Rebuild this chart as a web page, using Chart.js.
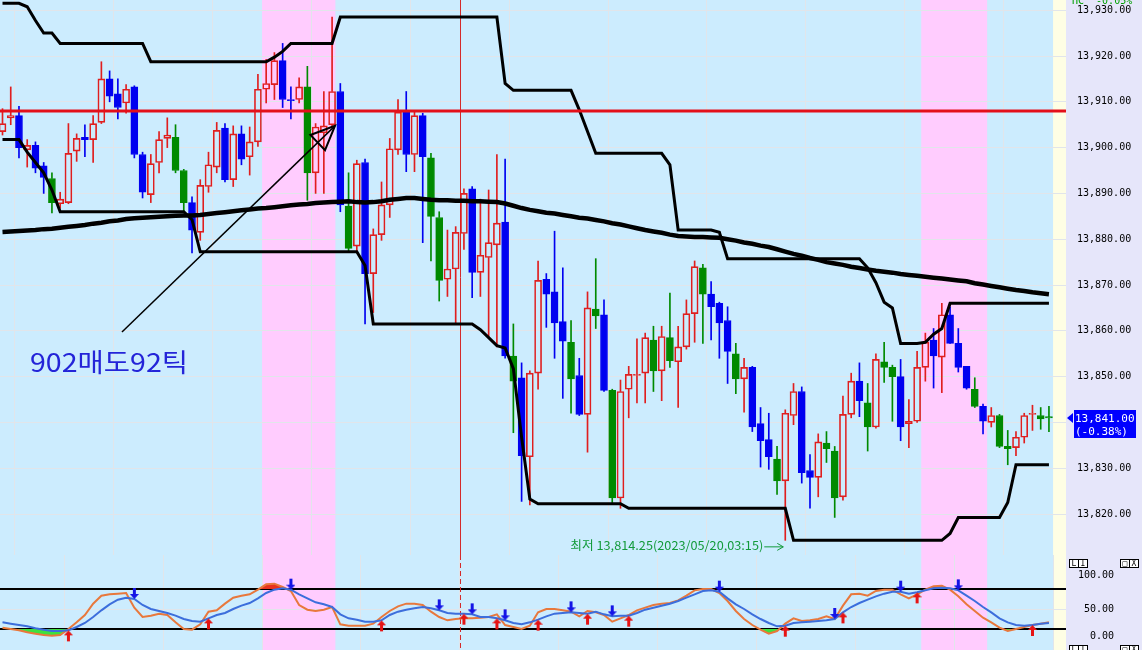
<!DOCTYPE html>
<html lang="ko">
<head>
<meta charset="utf-8">
<title>Futures 5min chart</title>
<script src="https://cdn.jsdelivr.net/npm/chart.js@4.4.1/dist/chart.umd.min.js"></script>
<style>
  html, body { margin: 0; padding: 0; background: #e6e6fa; overflow: hidden; }
  canvas { display: block; }
</style>
</head>
<body>
<canvas id="priceChart" width="1142" height="555"></canvas>
<canvas id="stochChart" width="1142" height="95"></canvas>
<script>
// ---------- data ----------
// u = up candle (hollow red), d = down (blue), g = down (green)
var candleKinds = ('uududdguuu' + 'duuddudduu' + 'uggduuudud' + 'uuuudduguu' + 'udguduuuud' +
  'udgguuuduu' + 'udgduudddg' + 'dugdguuuug' + 'uguuugdddg' + 'udddguuddu' +
  'gguudguggd' + 'uuududddgd' + 'ugguuugg').split('')

var opens = [
  13903.5, 13906.5, 13907, 13899.5, 13900.5, 13896, 13893.25, 13887.75, 13888, 13899.25,
  13902.25, 13901.75, 13905.5, 13915, 13911.75, 13909.75, 13913.25, 13898.5, 13889.75, 13896.75,
  13902, 13902.25, 13895, 13888, 13881.5, 13891.5, 13895.75, 13904.25, 13893, 13903,
  13898, 13901.25, 13912.75, 13913.75, 13919, 13910.5, 13910.5, 13913.25, 13894.5, 13903.25,
  13905, 13912.25, 13887.25, 13878.5, 13896.75, 13872.5, 13881, 13887.5, 13899.5, 13907.75,
  13898.5, 13907, 13897.75, 13884.75, 13871.25, 13873.5, 13881.25, 13891, 13872.75, 13876,
  13878.75, 13883.75, 13854.5, 13849.75, 13832.5, 13850.75, 13871.25, 13868.5, 13862, 13857.5,
  13850.25, 13841.75, 13864.75, 13863.5, 13847, 13823.5, 13847.25, 13850.25, 13850.75, 13858,
  13851.25, 13858.5, 13853.25, 13856.5, 13863.75, 13873.75, 13868, 13866, 13862.25, 13855,
  13849.5, 13852, 13839.75, 13836.25, 13832, 13827.25, 13841.5, 13846.75, 13829.5, 13828,
  13835.5, 13833.75, 13823.75, 13841.75, 13849, 13844.25, 13839, 13853.25, 13852, 13850,
  13839.75, 13840.25, 13852, 13858, 13854.25, 13863.5, 13857.25, 13852.25, 13847.25, 13843.5,
  13840, 13841.5, 13834.75, 13834.5, 13836.75, 13841.75, 13841.5, 13841.25
]
var highs = [
  13908.5, 13913.25, 13909, 13901.75, 13901.25, 13896.75, 13894.5, 13890.25, 13905.25, 13903,
  13905, 13907, 13918.75, 13916.75, 13915, 13913.75, 13913.5, 13899, 13898.5, 13903.5,
  13906.5, 13905, 13895.25, 13889.25, 13893, 13899, 13905.5, 13905.25, 13904.75, 13904.75,
  13904.5, 13916, 13919.25, 13920.75, 13922.75, 13913.25, 13915.25, 13917.75, 13905.25, 13912.25,
  13928.5, 13914, 13894.5, 13897.25, 13897.5, 13882.25, 13892.5, 13902, 13910.5, 13912.25,
  13907.75, 13907.5, 13898.75, 13886, 13882, 13882.75, 13891, 13891.5, 13888.75, 13890.75,
  13898.5, 13897.5, 13861.5, 13853, 13851.25, 13875.25, 13872.5, 13881.75, 13873.75, 13862.25,
  13854, 13868.5, 13875.75, 13866.75, 13847.25, 13849.25, 13852.25, 13858.25, 13859.5, 13861,
  13861, 13868.25, 13861, 13866.75, 13875.25, 13874.5, 13870.75, 13866.25, 13865.25, 13857.25,
  13854, 13852.25, 13843.25, 13842, 13834.75, 13842.75, 13848.5, 13847.75, 13833, 13837.5,
  13838, 13834.75, 13845.75, 13850.75, 13853, 13848.5, 13855, 13857.5, 13852.5, 13853.75,
  13845, 13855.5, 13859.5, 13860.5, 13866, 13865.25, 13860.5, 13852.25, 13849.75, 13844,
  13843.25, 13841.75, 13838.25, 13838, 13842, 13843.75, 13843.25, 13843.5
]
var lows = [
  13902.75, 13905, 13897.75, 13895.75, 13894.5, 13890, 13885.75, 13886.75, 13887.75, 13897,
  13898, 13896.75, 13905.25, 13910, 13906.25, 13907.5, 13897.75, 13889, 13888, 13894.5,
  13900, 13894.5, 13886, 13877, 13879.75, 13890.25, 13894.5, 13892.5, 13891.5, 13896.25,
  13894, 13900.25, 13909.75, 13910.5, 13908.75, 13906.25, 13909.75, 13888.5, 13890, 13890,
  13904.5, 13886, 13877.5, 13877.5, 13861.5, 13864, 13879.75, 13884.75, 13898.5, 13894.75,
  13894.75, 13879.25, 13875.25, 13866.5, 13867.5, 13861.75, 13877.75, 13867.25, 13867.5, 13858.75,
  13856.5, 13854, 13837.75, 13822.75, 13822, 13847.25, 13860.75, 13854, 13845.25, 13842,
  13841.5, 13833.5, 13860.5, 13846.75, 13822.5, 13821.25, 13841, 13844.25, 13844.25, 13846.75,
  13844.75, 13852, 13843.25, 13856, 13857.5, 13857.25, 13858, 13854, 13848.5, 13846.25,
  13842.25, 13838, 13830.25, 13829.75, 13824.25, 13814.25, 13839.5, 13826.75, 13821.25, 13823.75,
  13831.25, 13819.25, 13823, 13841, 13841.25, 13833.75, 13838.75, 13848.75, 13840.25, 13836,
  13834.5, 13840, 13849, 13847.5, 13846.5, 13857.25, 13851, 13847.25, 13843.25, 13837.5,
  13839, 13834.5, 13830.75, 13832.75, 13835.5, 13838.25, 13838.5, 13838
]
var closes = [
  13905.25, 13907, 13900, 13900.5, 13895.5, 13893.5, 13888, 13888.75, 13898.75, 13902,
  13901.75, 13905.25, 13915, 13911.25, 13908.75, 13912.75, 13898.5, 13890.25, 13896.5, 13901.75,
  13902.75, 13895, 13888, 13882, 13891.75, 13896.25, 13903.75, 13893, 13903, 13897.5,
  13901.25, 13912.75, 13914, 13919, 13910.5, 13910.25, 13913.25, 13894.5, 13904.5, 13904.75,
  13912.25, 13887.5, 13878, 13896.5, 13872.5, 13881, 13887.5, 13899.75, 13907.75, 13898.5,
  13907, 13898, 13885, 13871, 13873.5, 13881.5, 13890, 13872.75, 13876.5, 13879.25,
  13883.5, 13854.5, 13849, 13832.75, 13850.75, 13871, 13868, 13861.75, 13857.75, 13849.5,
  13841.75, 13865, 13863.25, 13847, 13823.5, 13846.75, 13850.5, 13850.5, 13858.5, 13851.25,
  13858.75, 13853.5, 13856.5, 13863.75, 13874, 13868, 13865.25, 13861.75, 13855.5, 13849.5,
  13852, 13839, 13836, 13832.5, 13827.25, 13842, 13846.75, 13829, 13828, 13835.75,
  13834.25, 13823.5, 13841.75, 13849, 13844.75, 13839, 13853.75, 13852, 13850, 13839,
  13840.25, 13852, 13857.5, 13854.5, 13863.5, 13857.25, 13852, 13847.5, 13843.5, 13840.25,
  13841.5, 13834.75, 13834.25, 13836.75, 13841.5, 13842, 13840.75, 13841
]

// channel high / low lines
var upperBand = [
  13931.5, 13931.5, 13931.5, 13930.75, 13927.75, 13925, 13925, 13922.75, 13922.75, 13922.75,
  13922.75, 13922.75, 13922.75, 13922.75, 13922.75, 13922.75, 13922.75, 13922.75, 13918.75, 13918.75,
  13918.75, 13918.75, 13918.75, 13918.75, 13918.75, 13918.75, 13918.75, 13918.75, 13918.75, 13918.75,
  13918.75, 13918.75, 13918.75, 13919.75, 13921, 13922.75, 13922.75, 13922.75, 13922.75, 13922.75,
  13922.75, 13928.5, 13928.5, 13928.5, 13928.5, 13928.5, 13928.5, 13928.5, 13928.5, 13928.5,
  13928.5, 13928.5, 13928.5, 13928.5, 13928.5, 13928.5, 13928.5, 13928.5, 13928.5, 13928.5,
  13928.5, 13914, 13912.5, 13912.5, 13912.5, 13912.5, 13912.5, 13912.5, 13912.5, 13912.5,
  13908.25, 13903.5, 13898.75, 13898.75, 13898.75, 13898.75, 13898.75, 13898.75, 13898.75, 13898.75,
  13898.75, 13896.25, 13882, 13882, 13882, 13882, 13882, 13881.5, 13875.75, 13875.75,
  13875.75, 13875.75, 13875.75, 13875.75, 13875.75, 13875.75, 13875.75, 13875.75, 13875.75, 13875.75,
  13875.75, 13875.75, 13875.75, 13875.75, 13875.75, 13873.75, 13870.5, 13866.25, 13865, 13857.25,
  13857.25, 13857.25, 13857.5, 13859.25, 13860.5, 13866, 13866, 13866, 13866, 13866,
  13866, 13866, 13866, 13866, 13866, 13866, 13866, 13866
]
var lowerBand = [
  13901.75, 13901.75, 13901.75, 13899, 13896.75, 13894.5, 13890.75, 13886, 13886, 13886,
  13886, 13886, 13886, 13886, 13886, 13886, 13886, 13886, 13886, 13886,
  13886, 13886, 13886, 13884.25, 13877.25, 13877.25, 13877.25, 13877.25, 13877.25, 13877.25,
  13877.25, 13877.25, 13877.25, 13877.25, 13877.25, 13877.25, 13877.25, 13877.25, 13877.25, 13877.25,
  13877.25, 13877.25, 13877.25, 13877.25, 13874.25, 13861.5, 13861.5, 13861.5, 13861.5, 13861.5,
  13861.5, 13861.5, 13861.5, 13861.5, 13861.5, 13861.5, 13861.5, 13861.5, 13860.25, 13858.5,
  13856.75, 13856.25, 13851.75, 13836.75, 13823.25, 13822.25, 13822.25, 13822.25, 13822.25, 13822.25,
  13822.25, 13822.25, 13822.25, 13822.25, 13822.25, 13822.25, 13821.25, 13821.25, 13821.25, 13821.25,
  13821.25, 13821.25, 13821.25, 13821.25, 13821.25, 13821.25, 13821.25, 13821.25, 13821.25, 13821.25,
  13821.25, 13821.25, 13821.25, 13821.25, 13821.25, 13821.25, 13814.25, 13814.25, 13814.25, 13814.25,
  13814.25, 13814.25, 13814.25, 13814.25, 13814.25, 13814.25, 13814.25, 13814.25, 13814.25, 13814.25,
  13814.25, 13814.25, 13814.25, 13814.25, 13814.25, 13815.75, 13819.25, 13819.25, 13819.25, 13819.25,
  13819.25, 13819.25, 13822.5, 13830.75, 13830.75, 13830.75, 13830.75, 13830.75
]
// long moving average (thick line)
var maLine = [
  13881.6, 13881.7, 13881.8, 13881.9, 13882.0, 13882.2, 13882.3, 13882.5, 13882.7, 13882.9,
  13883.1, 13883.4, 13883.6, 13883.9, 13884.1, 13884.4, 13884.6, 13884.7, 13884.8, 13884.9,
  13885.0, 13885.1, 13885.2, 13885.2, 13885.3, 13885.5, 13885.7, 13885.9, 13886.1, 13886.3,
  13886.5, 13886.7, 13886.8, 13887.0, 13887.2, 13887.4, 13887.6, 13887.7, 13887.9, 13888.0,
  13888.1, 13888.2, 13888.3, 13888.1, 13888.0, 13888.1, 13888.3, 13888.6, 13888.8, 13889.0,
  13889.0, 13888.8, 13888.6, 13888.5, 13888.5, 13888.4, 13888.4, 13888.3, 13888.3, 13888.2,
  13888.1, 13887.8, 13887.3, 13886.8, 13886.4, 13886.1, 13885.8, 13885.6, 13885.3, 13885.0,
  13884.7, 13884.5, 13884.2, 13883.9, 13883.5, 13883.2, 13882.8, 13882.4, 13882.0, 13881.7,
  13881.4, 13881.0, 13880.7, 13880.6, 13880.5, 13880.5, 13880.4, 13880.3, 13880.0, 13879.7,
  13879.3, 13879.0, 13878.6, 13878.3, 13877.8, 13877.3, 13876.8, 13876.4, 13875.9, 13875.5,
  13875.0, 13874.7, 13874.4, 13874.0, 13873.7, 13873.4, 13873.1, 13872.9, 13872.7, 13872.4,
  13872.2, 13872.0, 13871.8, 13871.6, 13871.4, 13871.2, 13871.0, 13870.8, 13870.4, 13870.1,
  13869.8, 13869.5, 13869.2, 13868.9, 13868.7, 13868.4, 13868.2, 13868.0
]

// stochastic pane
var stochK = [
  22, 20, 18, 15, 13, 11, 10, 11, 20, 30,
  41, 58, 70, 72, 73, 74, 52, 38, 40, 43,
  41, 30, 20, 19, 27, 46, 48, 58, 67, 70,
  72, 79, 87, 88, 83, 77, 56, 49, 47, 49,
  53, 27, 25, 25, 25, 28, 38, 47, 54, 58,
  58, 56, 46, 38, 33, 35, 36, 36, 37, 38,
  42, 26, 23, 20, 25, 45, 50, 50, 48, 46,
  39, 47, 45, 41, 31, 36, 41, 48, 52, 56,
  58, 59, 63, 70, 78, 80, 80, 74, 62, 47,
  35, 26, 19, 13, 17, 28, 36, 32, 33, 35,
  39, 35, 55, 72, 73, 70, 77, 79, 79, 72,
  66, 72, 79, 84, 85, 79, 69, 57, 47, 37,
  30, 22, 17, 20, 23, 26, 28, 30
]
var stochD = [
  30, 28, 26, 24, 21, 19, 17, 17, 18, 23,
  29, 38, 48, 57, 64, 67, 65, 56, 50, 47,
  44, 40, 35, 32, 31, 36, 41, 44, 50, 55,
  59, 66, 74, 79, 81, 79, 72, 66, 60, 57,
  53, 42, 36, 34, 31, 31, 33, 41, 46, 49,
  51, 53, 51, 48, 44, 43, 43, 42, 38, 38,
  36, 33, 29, 27, 30, 34, 39, 43, 44, 45,
  44, 43, 46, 42, 39, 40, 40, 44, 49, 52,
  55, 58, 62, 67, 72, 77, 78, 76, 66, 57,
  50, 42, 35, 29, 24, 25, 29, 30, 31, 32,
  33, 35, 45, 53, 59, 64, 69, 73, 76, 76,
  73, 75, 78, 81, 82, 81, 78, 70, 62, 53,
  45, 36, 30, 26, 25, 26, 28, 29
]
var sellSignals = [16, 35, 53, 57, 61, 69, 74, 87, 101, 109, 116]
var buySignals = [8, 25, 46, 56, 60, 65, 71, 76, 95, 102, 111, 125]
var stochLevels = [20, 80]
var stochTicks = [0, 50, 100]

var priceTicks = [13820, 13830, 13840, 13850, 13860, 13870, 13880, 13890, 13900, 13910, 13920, 13930]
var hourLines = [7.5, 19.5, 31.5, 43.5, 55.5, 67.5, 79.5, 91.5, 103.5, 115.5, 127.5]
var shadedRanges = [[31.5, 40.4], [111.5, 119.5]]
var markerAt = 55.5
var resistance = 13908
var noteText = '902매도92틱'
var lowTime = '2023/05/20,03:15'
var changeText = '(-0.38%)'
var headerText = 'HC  -0.05%'

// ---------- helpers ----------
var gridColor = '#e1e5ea'
function fmt (v) {
  return Number(v).toLocaleString('en-US', { minimumFractionDigits: 2, maximumFractionDigits: 2 })
}
function kindColor (k) {
  if (k === 'u') return '#e01e1e'
  if (k === 'g') return '#008a00'
  return '#0000f0'
}
var idx = closes.map(function (c, i) { return i })

// draw text stretched to a given width, left edge at x
function fitText (ctx, text, x, y, width) {
  var w = ctx.measureText(text).width
  ctx.save()
  ctx.translate(x, y)
  ctx.scale(width / w, 1)
  ctx.textAlign = 'left'
  ctx.fillText(text, 0, 0)
  ctx.restore()
}

function timeAxis () {
  return {
    type: 'linear',
    min: -0.3034,
    max: 129.07,
    offset: false,
    afterBuildTicks: function (s) { s.ticks = hourLines.map(function (v) { return { value: v } }) },
    afterFit: function (s) { s.height = 0; s.paddingLeft = 0; s.paddingRight = 0 },
    ticks: { display: false },
    grid: { color: gridColor, drawTicks: false },
    border: { display: false }
  }
}

// background: axis area, plot colour, future strip, pink sessions
var panelBackground = {
  id: 'panelBackground',
  beforeDraw: function (chart) {
    var ctx = chart.ctx, a = chart.chartArea, x = chart.scales.x
    ctx.save()
    ctx.fillStyle = '#e6e6fa'
    ctx.fillRect(0, 0, chart.width, chart.height)
    ctx.fillStyle = '#ccecfe'
    ctx.fillRect(a.left, a.top, a.width, a.height)
    var edge = x.getPixelForValue(closes.length - 0.5)
    ctx.fillStyle = '#fefee4'
    ctx.fillRect(edge, a.top, a.right - edge, a.height)
    ctx.fillStyle = '#ffccfe'
    shadedRanges.forEach(function (r) {
      var x0 = x.getPixelForValue(r[0]), x1 = x.getPixelForValue(r[1])
      ctx.fillRect(x0, a.top, x1 - x0, a.height)
    })
    ctx.restore()
  }
}

function drawArrowHead (ctx, fx, fy, tx, ty, len, half) {
  var dx = tx - fx, dy = ty - fy, l = Math.sqrt(dx * dx + dy * dy)
  dx /= l; dy /= l
  var bx = tx - dx * len, by = ty - dy * len
  ctx.beginPath()
  ctx.moveTo(tx, ty)
  ctx.lineTo(bx - dy * half, by + dx * half)
  ctx.lineTo(bx + dy * half, by - dx * half)
  ctx.closePath()
}

var priceOverlay = {
  id: 'priceOverlay',
  beforeDatasetsDraw: function (chart) {
    var ctx = chart.ctx, a = chart.chartArea, x = chart.scales.x
    var mx = Math.round(x.getPixelForValue(markerAt)) + 0.5
    ctx.save()
    ctx.strokeStyle = '#d42a2a'
    ctx.lineWidth = 1
    ctx.beginPath(); ctx.moveTo(mx, a.top); ctx.lineTo(mx, a.bottom); ctx.stroke()
    ctx.restore()
  },
  afterDatasetsDraw: function (chart) {
    var ctx = chart.ctx, a = chart.chartArea, x = chart.scales.x, y = chart.scales.y
    ctx.save()
    // horizontal level
    var ry = y.getPixelForValue(resistance)
    ctx.strokeStyle = '#e3101a'
    ctx.lineWidth = 3
    ctx.beginPath(); ctx.moveTo(a.left, ry); ctx.lineTo(a.right, ry); ctx.stroke()

    // annotation arrow
    var fx = x.getPixelForValue(14.5), fy = y.getPixelForValue(13859.75)
    var tx = x.getPixelForValue(40.35), ty = y.getPixelForValue(13904.75)
    ctx.strokeStyle = '#000'
    ctx.lineWidth = 1.5
    ctx.beginPath(); ctx.moveTo(fx, fy); ctx.lineTo(tx, ty); ctx.stroke()
    ctx.lineWidth = 2
    drawArrowHead(ctx, fx, fy, tx, ty, 24, 10.5)
    ctx.stroke()

    // annotation text
    ctx.fillStyle = '#2424d8'
    ctx.font = '26px "Noto Sans CJK KR"'
    ctx.textBaseline = 'alphabetic'
    fitText(ctx, noteText, x.getPixelForValue(3.34), y.getPixelForValue(13851), 158)

    // lowest price note
    var low = Math.min.apply(null, lows), li = lows.indexOf(low)
    var ax1 = x.getPixelForValue(li) - 2, ay = y.getPixelForValue(low) + 6, ax0 = ax1 - 19
    ctx.strokeStyle = '#129a3a'
    ctx.fillStyle = '#129a3a'
    ctx.lineWidth = 1
    ctx.beginPath(); ctx.moveTo(ax0, ay + 0.5); ctx.lineTo(ax1, ay + 0.5); ctx.stroke()
    ctx.beginPath(); ctx.moveTo(ax1 - 6, ay - 3); ctx.lineTo(ax1, ay + 0.5); ctx.lineTo(ax1 - 6, ay + 4); ctx.stroke()
    ctx.font = '12px "Noto Sans CJK KR"'
    fitText(ctx, '최저 ' + fmt(low) + '(' + lowTime + ')', ax0 - 194, ay + 4, 193)
    ctx.restore()
  },
  afterDraw: function (chart) {
    var ctx = chart.ctx, a = chart.chartArea, y = chart.scales.y
    var last = closes[closes.length - 1]
    var py = Math.round(y.getPixelForValue(last))
    ctx.save()
    ctx.fillStyle = '#0000ff'
    ctx.beginPath()
    ctx.moveTo(a.right + 1, py); ctx.lineTo(a.right + 7, py - 5); ctx.lineTo(a.right + 7, py + 5)
    ctx.closePath(); ctx.fill()
    ctx.fillRect(a.right + 8, py - 8, 62, 28)
    ctx.fillStyle = '#fff'
    ctx.font = '11px "DejaVu Sans Mono"'
    ctx.textAlign = 'left'
    ctx.fillText(fmt(last), a.right + 9, py + 4)
    ctx.fillText(changeText, a.right + 9, py + 17)
    // header, clipped by the top edge
    ctx.fillStyle = '#00a000'
    ctx.font = '10px "DejaVu Sans Mono"'
    ctx.fillText(headerText, a.right + 6, 4)
    ctx.restore()
  }
}

// ---------- price pane ----------
var priceChart = new Chart(document.getElementById('priceChart').getContext('2d'), {
  type: 'line',
  data: {
    datasets: [
      {
        type: 'bar',
        label: 'upper wick',
        data: idx.map(function (i) { return { x: i, y: [Math.max(opens[i], closes[i]), highs[i]] } }),
        backgroundColor: function (c) { return kindColor(candleKinds[c.dataIndex]) },
        barThickness: 1,
        grouped: false,
        order: 3
      },
      {
        type: 'bar',
        label: 'lower wick',
        data: idx.map(function (i) { return { x: i, y: [lows[i], Math.min(opens[i], closes[i])] } }),
        backgroundColor: function (c) { return kindColor(candleKinds[c.dataIndex]) },
        barThickness: 1,
        grouped: false,
        order: 3
      },
      {
        type: 'bar',
        label: 'body',
        data: idx.map(function (i) { return { x: i, y: [opens[i], closes[i]] } }),
        backgroundColor: function (c) {
          var k = candleKinds[c.dataIndex]
          return k === 'u' ? 'rgba(0,0,0,0)' : kindColor(k)
        },
        borderColor: function (c) { return kindColor(candleKinds[c.dataIndex]) },
        borderWidth: 1,
        borderSkipped: false,
        barThickness: 7,
        minBarLength: 1,
        grouped: false,
        order: 2
      },
      {
        label: 'MA',
        data: idx.map(function (i) { return { x: i, y: maLine[i] } }),
        borderColor: '#000',
        borderWidth: 4.5,
        pointRadius: 0,
        order: 1
      },
      {
        label: 'channel high',
        data: idx.map(function (i) { return { x: i, y: upperBand[i] } }),
        borderColor: '#000',
        borderWidth: 3,
        pointRadius: 0,
        order: 1
      },
      {
        label: 'channel low',
        data: idx.map(function (i) { return { x: i, y: lowerBand[i] } }),
        borderColor: '#000',
        borderWidth: 3,
        pointRadius: 0,
        order: 1
      }
    ]
  },
  options: {
    responsive: false,
    animation: false,
    devicePixelRatio: 1,
    layout: { padding: 0, autoPadding: false },
    plugins: { legend: { display: false }, tooltip: { enabled: false } },
    scales: {
      x: timeAxis(),
      y: {
        type: 'linear',
        position: 'right',
        min: 13811.05,
        max: 13932.23,
        afterBuildTicks: function (s) { s.ticks = priceTicks.map(function (v) { return { value: v } }) },
        afterFit: function (s) { s.width = 76; s.paddingTop = 0; s.paddingBottom = 0 },
        ticks: {
          callback: function (v) { return fmt(v) },
          font: { family: 'DejaVu Sans Mono', size: 10 },
          color: '#000',
          padding: 11
        },
        grid: { color: gridColor, drawTicks: false },
        border: { display: false }
      }
    }
  },
  plugins: [panelBackground, priceOverlay]
})

// ---------- stochastic pane ----------
function arrowIcon (color, down) {
  var c = document.createElement('canvas')
  c.width = 9; c.height = 26
  var g = c.getContext('2d')
  g.fillStyle = color
  if (down) {
    g.fillRect(3, 2, 3, 7)
    g.beginPath(); g.moveTo(0, 8); g.lineTo(9, 8); g.lineTo(4.5, 13); g.closePath(); g.fill()
  } else {
    g.beginPath(); g.moveTo(4.5, 13); g.lineTo(9, 18); g.lineTo(0, 18); g.closePath(); g.fill()
    g.fillRect(3, 17, 3, 7)
  }
  return c
}

var stochOverlay = {
  id: 'stochOverlay',
  beforeDatasetsDraw: function (chart) {
    var ctx = chart.ctx, a = chart.chartArea, x = chart.scales.x, y = chart.scales.y
    ctx.save()
    ctx.strokeStyle = '#000'
    ctx.lineWidth = 2
    stochLevels.forEach(function (v) {
      var ly = Math.round(y.getPixelForValue(v))
      ctx.beginPath(); ctx.moveTo(a.left, ly); ctx.lineTo(a.right, ly); ctx.stroke()
    })
    var mx = Math.round(x.getPixelForValue(markerAt)) + 0.5
    ctx.strokeStyle = '#d42a2a'
    ctx.lineWidth = 1
    ctx.setLineDash([5, 3])
    ctx.beginPath(); ctx.moveTo(mx, a.top); ctx.lineTo(mx, a.bottom); ctx.stroke()
    ctx.restore()
  },
  afterDraw: function (chart) {
    var ctx = chart.ctx, y = chart.scales.y
    ctx.save()
    ctx.fillStyle = '#000'
    ctx.font = '10px "DejaVu Sans Mono"'
    ctx.textAlign = 'right'
    ctx.textBaseline = 'middle'
    stochTicks.forEach(function (v) {
      var ty = Math.min(y.getPixelForValue(v), chart.height - 14)
      ctx.fillText(fmt(v), 1114, ty)
    })
    // pane buttons
    ctx.font = '8px "DejaVu Sans Mono"'
    ctx.textAlign = 'center'
    ctx.lineWidth = 1
    ;[4, 90].forEach(function (top) {
      [[1069, 'L', 'I'], [1120, '□', 'X']].forEach(function (b) {
        ctx.fillStyle = '#fff'
        ctx.fillRect(b[0], top, 18, 9)
        ctx.strokeStyle = '#000'
        ctx.strokeRect(b[0] + 0.5, top + 0.5, 9, 8)
        ctx.strokeRect(b[0] + 9.5, top + 0.5, 9, 8)
        ctx.fillStyle = '#000'
        ctx.fillText(b[1], b[0] + 5, top + 5)
        ctx.fillText(b[2], b[0] + 14, top + 5)
      })
    })
    ctx.restore()
  }
}

var stochChart = new Chart(document.getElementById('stochChart').getContext('2d'), {
  type: 'line',
  data: {
    datasets: [
      {
        label: 'K over',
        data: idx.map(function (i) { return { x: i, y: stochK[i] } }),
        borderWidth: 0,
        pointRadius: 0,
        fill: { target: { value: stochLevels[1] }, above: '#e8321e', below: 'rgba(0,0,0,0)' },
        order: 5
      },
      {
        label: 'K under',
        data: idx.map(function (i) { return { x: i, y: stochK[i] } }),
        borderWidth: 0,
        pointRadius: 0,
        fill: { target: { value: stochLevels[0] }, above: 'rgba(0,0,0,0)', below: '#3ee03e' },
        order: 5
      },
      {
        label: '%K',
        data: idx.map(function (i) { return { x: i, y: stochK[i] } }),
        borderColor: '#e8783c',
        borderWidth: 2,
        pointRadius: 0,
        order: 4
      },
      {
        label: '%D',
        data: idx.map(function (i) { return { x: i, y: stochD[i] } }),
        borderColor: '#3c6edc',
        borderWidth: 2,
        pointRadius: 0,
        order: 3
      },
      {
        label: 'sell',
        data: sellSignals.map(function (i) { return { x: i, y: stochD[i] } }),
        showLine: false,
        pointStyle: arrowIcon('#1414e6', true),
        pointRadius: 5,
        order: 1
      },
      {
        label: 'buy',
        data: buySignals.map(function (i) { return { x: i, y: stochD[i] } }),
        showLine: false,
        pointStyle: arrowIcon('#e61414', false),
        pointRadius: 5,
        order: 1
      }
    ]
  },
  options: {
    responsive: false,
    animation: false,
    devicePixelRatio: 1,
    layout: { padding: 0, autoPadding: false },
    plugins: { legend: { display: false }, tooltip: { enabled: false } },
    scales: {
      x: timeAxis(),
      y: {
        type: 'linear',
        position: 'right',
        min: -11.5,
        max: 131,
        afterBuildTicks: function (s) { s.ticks = [{ value: 50 }] },
        afterFit: function (s) { s.width = 76; s.paddingTop = 0; s.paddingBottom = 0 },
        ticks: { display: false },
        grid: { color: gridColor, drawTicks: false },
        border: { display: false }
      }
    }
  },
  plugins: [panelBackground, stochOverlay]
})
</script>
</body>
</html>
